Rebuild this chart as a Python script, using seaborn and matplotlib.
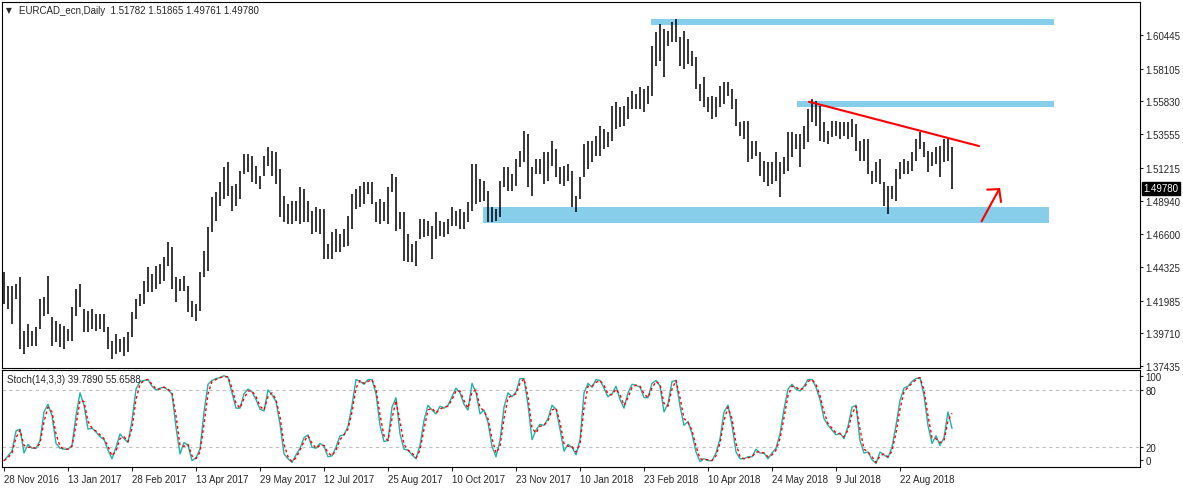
import numpy as np
import matplotlib
matplotlib.use("Agg")
import matplotlib.pyplot as plt
import matplotlib.transforms as mtransforms
from matplotlib.patches import Rectangle
import seaborn as sns


# EURCAD daily, every bar here = 2 trading days (high / low)

date_labels = ['28 Nov 2016', '13 Jan 2017', '28 Feb 2017', '13 Apr 2017', '29 May 2017',
               '12 Jul 2017', '25 Aug 2017', '10 Oct 2017', '23 Nov 2017', '10 Jan 2018',
               '23 Feb 2018', '10 Apr 2018', '24 May 2018', '9 Jul 2018', '22 Aug 2018']

bar_high = [
    1.4398, 1.4300, 1.4300, 1.4314, 1.4363, 1.3988, 1.4036, 1.3988, 1.4015, 1.4210,
    1.4224, 1.4370, 1.4085, 1.4057, 1.4036, 1.4022, 1.4002, 1.4154, 1.4280, 1.4314,
    1.4141, 1.4127, 1.4141, 1.4106, 1.4106, 1.4106, 1.4015, 1.3918, 1.3967, 1.3932,
    1.3946, 1.3981, 1.4120, 1.4210, 1.4245, 1.4335, 1.4432, 1.4384, 1.4439, 1.4453,
    1.4502, 1.4606, 1.4571, 1.4363, 1.4349, 1.4370, 1.4300, 1.4196, 1.4175, 1.4398,
    1.4544, 1.4710, 1.4919, 1.4954, 1.5023, 1.5127, 1.5162, 1.4995, 1.5009, 1.5100,
    1.5218, 1.5218, 1.5204, 1.5134, 1.5065, 1.5204, 1.5266, 1.5239, 1.5232, 1.5114,
    1.4926, 1.4870, 1.4891, 1.4891, 1.4988, 1.4975, 1.4891, 1.4822, 1.4849, 1.4836,
    1.4836, 1.4592, 1.4676, 1.4697, 1.4662, 1.4697, 1.4787, 1.4940, 1.4975, 1.4995,
    1.5023, 1.5023, 1.5023, 1.4884, 1.4905, 1.4884, 1.4988, 1.5079, 1.5058, 1.4815,
    1.4815, 1.4662, 1.4592, 1.4613, 1.4766, 1.4766, 1.4752, 1.4717, 1.4815, 1.4752,
    1.4745, 1.4766, 1.4849, 1.4822, 1.4836, 1.4815, 1.4884, 1.5148,
    1.5148, 1.5044, 1.5030, 1.4961, 1.4849, 1.4836, 1.5030, 1.5127, 1.5127, 1.5079,
    1.5183, 1.5239, 1.5378, 1.5357, 1.5127, 1.5183, 1.5183, 1.5232, 1.5232, 1.5308,
    1.5253, 1.5127, 1.5134, 1.5148, 1.5100, 1.4926, 1.5058, 1.5287, 1.5308, 1.5308,
    1.5343, 1.5412, 1.5392, 1.5371, 1.5551, 1.5579, 1.5544, 1.5551, 1.5614, 1.5656,
    1.5635, 1.5683, 1.5670, 1.5690, 1.5968, 1.6066, 1.6121, 1.6087, 1.6073, 1.6135,
    1.6156, 1.6031, 1.6073, 1.6017, 1.5934, 1.5892, 1.5704, 1.5753, 1.5614, 1.5621,
    1.5614, 1.5690, 1.5718, 1.5718, 1.5670, 1.5600, 1.5440, 1.5447, 1.5447, 1.5308,
    1.5308, 1.5232, 1.5169, 1.5162, 1.5162, 1.5232, 1.5162, 1.5197, 1.5371, 1.5371,
    1.5357, 1.5357, 1.5412, 1.5531, 1.5600, 1.5586, 1.5551, 1.5440, 1.5378, 1.5447,
    1.5447, 1.5440, 1.5440, 1.5440, 1.5461, 1.5426, 1.5308, 1.5322, 1.5322, 1.5100,
    1.5162, 1.5183, 1.5023, 1.4995, 1.4995, 1.5114, 1.5162, 1.5183, 1.5169, 1.5232,
    1.5322, 1.5371, 1.5301, 1.5239, 1.5232, 1.5266, 1.5273, 1.5322, 1.5322, 1.5266]

bar_low = [
    1.4175, 1.4141, 1.4036, 1.4210, 1.3863, 1.3828, 1.3876, 1.3883, 1.3883, 1.4002,
    1.4092, 1.4106, 1.3883, 1.3911, 1.3876, 1.3863, 1.3918, 1.3918, 1.4092, 1.4154,
    1.3981, 1.3981, 1.4002, 1.3988, 1.4002, 1.3981, 1.3863, 1.3793, 1.3828, 1.3842,
    1.3814, 1.3842, 1.3946, 1.4071, 1.4161, 1.4175, 1.4259, 1.4259, 1.4280, 1.4314,
    1.4335, 1.4439, 1.4280, 1.4189, 1.4266, 1.4266, 1.4120, 1.4085, 1.4057, 1.4127,
    1.4363, 1.4405, 1.4676, 1.4752, 1.4856, 1.4905, 1.4926, 1.4822, 1.4856, 1.4905,
    1.5079, 1.5093, 1.5023, 1.5009, 1.4975, 1.5065, 1.5134, 1.5065, 1.5009, 1.4780,
    1.4745, 1.4731, 1.4731, 1.4752, 1.4731, 1.4745, 1.4745, 1.4662, 1.4676, 1.4662,
    1.4488, 1.4488, 1.4488, 1.4537, 1.4537, 1.4571, 1.4578, 1.4697, 1.4836, 1.4849,
    1.4870, 1.4940, 1.4870, 1.4745, 1.4731, 1.4752, 1.4731, 1.4954, 1.4683, 1.4697,
    1.4474, 1.4467, 1.4467, 1.4439, 1.4627, 1.4641, 1.4648, 1.4488, 1.4627, 1.4648,
    1.4641, 1.4662, 1.4717, 1.4717, 1.4697, 1.4697, 1.4745, 1.4822,
    1.4870, 1.4884, 1.4891, 1.4745, 1.4745, 1.4752, 1.4780, 1.4988, 1.4961, 1.4961,
    1.4995, 1.5127, 1.5162, 1.4988, 1.4926, 1.5079, 1.5079, 1.5009, 1.5030, 1.5134,
    1.5058, 1.5009, 1.4995, 1.5030, 1.4849, 1.4815, 1.4905, 1.5058, 1.5114, 1.5162,
    1.5204, 1.5204, 1.5253, 1.5266, 1.5308, 1.5392, 1.5405, 1.5412, 1.5461, 1.5531,
    1.5531, 1.5531, 1.5510, 1.5565, 1.5621, 1.5829, 1.5864, 1.5753, 1.5968, 1.5996,
    1.5996, 1.5829, 1.5809, 1.5843, 1.5829, 1.5670, 1.5586, 1.5544, 1.5510, 1.5461,
    1.5475, 1.5544, 1.5565, 1.5621, 1.5531, 1.5412, 1.5343, 1.5322, 1.5162, 1.5183,
    1.5204, 1.5065, 1.5023, 1.4995, 1.5009, 1.5030, 1.4919, 1.5079, 1.5100, 1.5197,
    1.5253, 1.5127, 1.5253, 1.5301, 1.5440, 1.5412, 1.5308, 1.5301, 1.5287, 1.5336,
    1.5343, 1.5322, 1.5343, 1.5322, 1.5336, 1.5239, 1.5169, 1.5169, 1.5079, 1.5009,
    1.5023, 1.5009, 1.4856, 1.4801, 1.4905, 1.4891, 1.5044, 1.5079, 1.5079, 1.5100,
    1.5169, 1.5253, 1.5197, 1.5093, 1.5134, 1.5148, 1.5058, 1.5162, 1.5169, 1.49761]

stoch_k = [
    6, 11, 16, 37, 39, 14, 23, 19, 19, 27,
    57, 65, 53, 24, 19, 18, 18, 22, 53, 77,
    64, 39, 40, 36, 31, 28, 17, 8, 20, 34,
    29, 25, 48, 81, 89, 90, 91, 84, 80, 82,
    83, 80, 76, 41, 13, 25, 22, 6, 9, 18,
    57, 86, 90, 92, 93, 95, 93, 77, 61, 61,
    76, 81, 78, 70, 60, 58, 80, 75, 68, 44,
    13, 8, 4, 12, 19, 30, 33, 20, 19, 24,
    21, 10, 11, 20, 32, 33, 42, 64, 91, 89,
    86, 91, 91, 76, 43, 26, 27, 62, 72, 34,
    18, 17, 12, 8, 22, 48, 64, 59, 55, 63,
    61, 64, 73, 82, 77, 65, 59, 87,
    77, 55, 59, 46, 21, 10, 27, 62, 77, 73,
    78, 92, 92, 64, 28, 38, 44, 43, 50, 64,
    60, 39, 16, 23, 20, 12, 28, 77, 87, 83,
    91, 90, 82, 73, 76, 84, 70, 61, 77, 86,
    85, 83, 72, 72, 87, 90, 84, 57, 66, 89,
    90, 63, 43, 47, 34, 15, 5, 8, 6, 6,
    14, 29, 57, 64, 43, 15, 8, 8, 10, 10,
    18, 14, 14, 8, 14, 19, 34, 60, 81, 86,
    81, 79, 84, 91, 91, 83, 70, 50, 43, 38,
    33, 35, 29, 42, 62, 64, 27, 14, 15, 7,
    3, 15, 12, 9, 20, 43, 69, 82, 84, 89,
    92, 93, 74, 43, 24, 32, 22, 30, 57, 39.789]

stoch_d = [
    6, 9, 14, 30, 38, 22, 20, 20, 19, 24,
    47, 62, 57, 34, 21, 18, 18, 21, 43, 69,
    68, 47, 40, 37, 33, 29, 21, 11, 16, 29,
    31, 26, 40, 70, 86, 90, 91, 86, 81, 81,
    83, 81, 77, 53, 22, 21, 23, 11, 8, 15,
    44, 76, 89, 91, 93, 94, 94, 82, 66, 61,
    71, 79, 79, 73, 63, 59, 73, 77, 70, 52,
    23, 10, 5, 9, 17, 26, 32, 24, 19, 22,
    22, 14, 11, 17, 28, 33, 39, 57, 82, 90,
    87, 89, 91, 81, 54, 32, 27, 50, 69, 47,
    23, 17, 14, 9, 17, 39, 59, 61, 56, 60,
    62, 63, 70, 79, 79, 69, 61, 78,
    80, 62, 58, 50, 29, 14, 21, 50, 72, 74,
    76, 87, 92, 73, 40, 35, 42, 43, 48, 59,
    61, 46, 24, 21, 21, 15, 23, 61, 84, 84,
    88, 90, 85, 76, 75, 81, 75, 64, 72, 83,
    85, 84, 76, 72, 82, 89, 86, 66, 63, 81,
    90, 72, 50, 46, 38, 21, 8, 7, 7, 6,
    11, 24, 48, 62, 50, 24, 10, 8, 9, 10,
    15, 15, 14, 10, 12, 17, 29, 51, 74, 84,
    83, 80, 82, 89, 91, 86, 74, 57, 45, 40,
    35, 34, 31, 38, 55, 63, 39, 18, 15, 10,
    4, 11, 13, 10, 16, 35, 60, 78, 83, 87,
    91, 93, 80, 53, 30, 29, 25, 27, 48, 55.6588]

price_ticks = [1.60445, 1.58105, 1.55830, 1.53555, 1.51215, 1.48940,
               1.46600, 1.44325, 1.41985, 1.39710, 1.37435]
last_close = 1.49780
header = 'EURCAD_ecn,Daily  1.51782 1.51865 1.49761 1.49780'
stoch_title = 'Stoch(14,3,3) 39.7890 55.6588'

# drawn objects (bar index, price)
zone_x0 = [161.75, 198.25, 119.75]
zone_x1 = [262.5, 262.5, 261.25]
zone_lo = [1.6114, 1.5544, 1.4738]
zone_hi = [1.6158, 1.5586, 1.4849]
trend_x = [201.25, 243.75]
trend_y = [1.5581, 1.5273]
arrow_x = [244.4, 248.8]
arrow_y = [1.4750, 1.4974]
head_x = [245.8, 248.8, 249.25]
head_y = [1.4970, 1.4974, 1.4884]

bar_x = np.arange(len(bar_high))

sns.set_style('white')
plt.rcParams['font.family'] = ['Liberation Sans', 'DejaVu Sans']
plt.rcParams['axes.linewidth'] = 0.8

fig = plt.figure(figsize=(11.83, 4.89), dpi=100)
ax = fig.add_axes([2 / 1183, 1 - 369 / 489, 1138 / 1183, 366.5 / 489])
ax2 = fig.add_axes([2 / 1183, 1 - 468.3 / 489, 1138 / 1183, 97.6 / 489])

# price bars
for x0, x1, lo, hi in zip(zone_x0, zone_x1, zone_lo, zone_hi):
    ax.add_patch(Rectangle((x0, lo), x1 - x0, hi - lo, color='#87ceeb', lw=0, zorder=1))
ax.vlines(bar_x, bar_low, bar_high, color='black', lw=1.1, zorder=2)
ax.plot(trend_x, trend_y, color='red', lw=1.5, zorder=3)
ax.plot(arrow_x, arrow_y, color='red', lw=1.5, zorder=3)
ax.plot(head_x, head_y, color='red', lw=1.5, zorder=3)

ax.set_xlim(-0.5, 284)
ax.set_ylim(1.3730, 1.6278)
ax.set_xticks([])
ax.yaxis.tick_right()
ax.set_yticks(price_ticks)
ax.set_yticklabels(['%.5f' % p for p in price_ticks])
ax.tick_params(axis='y', direction='out', length=2, width=0.8, labelsize=7, pad=2, right=True)

trans = mtransforms.blended_transform_factory(ax.transAxes, ax.transData)
ax.text(1.003, last_close, '1.49780', transform=trans, color='white', fontsize=7,
        va='center', ha='left',
        bbox=dict(facecolor='black', edgecolor='black', boxstyle='square,pad=0.15'))
ax.text(0.0035, 0.977, '\u25bc', transform=ax.transAxes, fontsize=5.5,
        va='center', ha='left', family=['DejaVu Sans'])
ax.text(0.0145, 0.977, header, transform=ax.transAxes, fontsize=7, va='center', ha='left')

# stochastic
ax2.axhline(80, color='#c0c0c0', lw=0.8, ls=(0, (3, 3)))
ax2.axhline(20, color='#c0c0c0', lw=0.8, ls=(0, (3, 3)))
sns.lineplot(x=bar_x, y=stoch_k, ax=ax2, color='#20b2aa', lw=1.0, estimator=None)
sns.lineplot(x=bar_x, y=stoch_d, ax=ax2, color='red', lw=1.0, estimator=None,
             linestyle=(0, (2, 2)))
ax2.set_xlim(-0.5, 284)
ax2.set_ylim(-1, 101.3)
ax2.yaxis.tick_right()
ax2.set_yticks([6.7, 20, 80, 94.7])
ax2.set_yticklabels(['0', '20', '80', '100'])
ax2.tick_params(axis='y', direction='out', length=2, width=0.8, labelsize=7, pad=2)
ax2.set_xticks(np.arange(len(date_labels)) * 16)
ax2.set_xticklabels(date_labels, ha='left')
ax2.tick_params(axis='x', direction='out', length=3, width=0.8, labelsize=7, pad=2, bottom=True)
ax2.set_xlabel('')
ax2.set_ylabel('')
ax2.text(0.0045, 0.905, stoch_title, transform=ax2.transAxes, fontsize=7, va='center', ha='left')

for a in (ax, ax2):
    for s in a.spines.values():
        s.set_color('black')

fig.savefig('out.png', dpi=100, facecolor='white')
